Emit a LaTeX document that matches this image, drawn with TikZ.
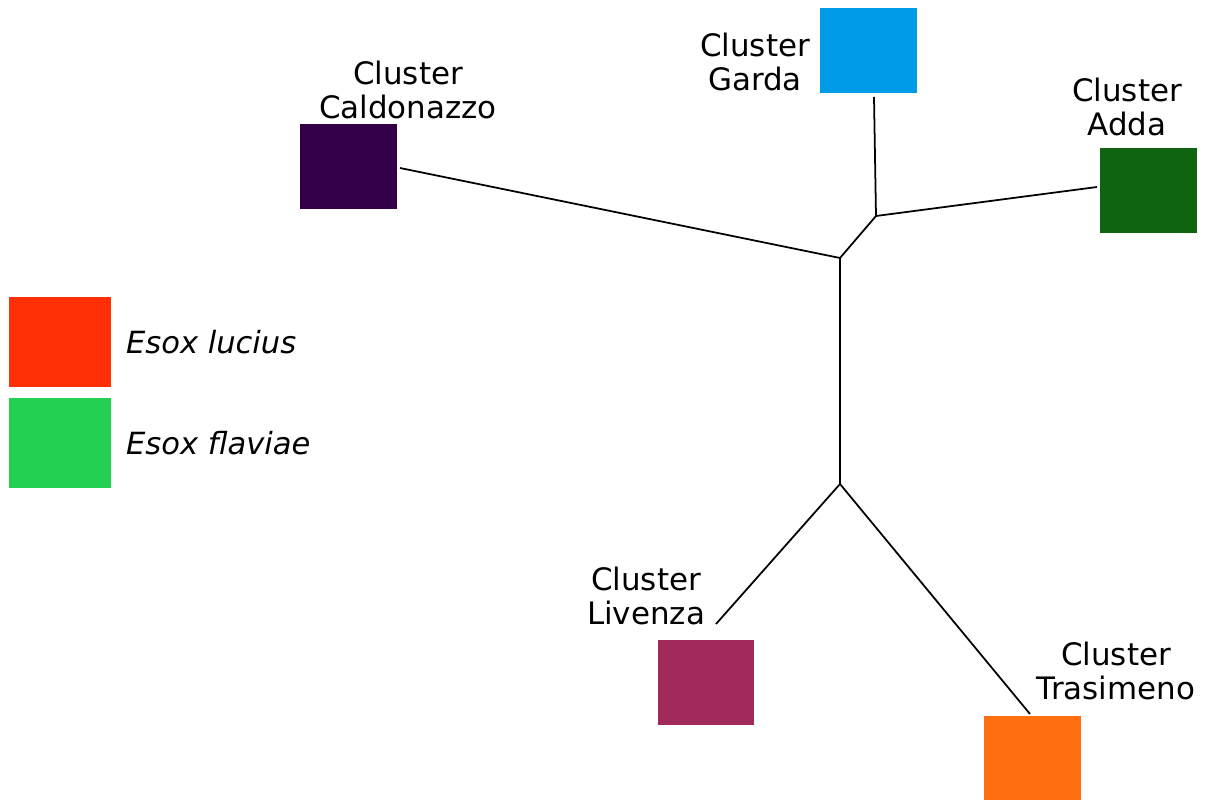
\documentclass[tikz,border=0pt]{standalone}
\usepackage{xcolor}
\usepackage{fontspec}
\setmainfont{DejaVu Sans}
\usepackage{tikz}
\usetikzlibrary{positioning}

\definecolor{caldcol}{RGB}{51,0,72}
\definecolor{gardacol}{RGB}{0,155,230}
\definecolor{addacol}{RGB}{15,100,16}
\definecolor{livcol}{RGB}{160,41,90}
\definecolor{trascol}{RGB}{255,111,15}
\definecolor{luciuscol}{RGB}{255,48,5}
\definecolor{flaviaecol}{RGB}{34,208,82}

\tikzset{
	clusterbox/.style={draw=none, minimum width=1.94cm, minimum height=1.7cm, inner sep=0pt},
	legendbox/.style={draw=none, minimum width=2.06cm, minimum height=1.8cm, inner sep=0pt},
	clusterlabel/.style={align=center, font=\fontsize{17.6}{19.5}\selectfont},
	legendlabel/.style={anchor=west, font=\fontsize{17.4}{19.5}\selectfont\itshape},
	branch/.style={line width=1pt, black}
}

\begin{document}
\begin{tikzpicture}[x=0.02cm, y=-0.02cm]
				\useasboundingbox (0,0) rectangle (1211,800);
				% squares of the clusters
				\node[clusterbox, fill=caldcol] (cald) at (348.5,166.5) {};
				\node[clusterbox, fill=gardacol] (garda) at (868.5,50.5) {};
				\node[clusterbox, fill=addacol] (adda) at (1148.5,190.5) {};
				\node[clusterbox, fill=livcol] (liv) at (706,682.5) {};
				\node[clusterbox, fill=trascol] (tras) at (1032,758.5) {};
				
				\node[clusterlabel] (caldtext) at (408,90) {Cluster\\Caldonazzo};
				\node[clusterlabel] (gardatext) at (755,62) {Cluster\\Garda};
				\node[clusterlabel] (addatext) at (1127,107) {Cluster\\Adda};
				\node[clusterlabel] (livtext) at (646,596) {Cluster\\Livenza};
				\node[clusterlabel] (trastext) at (1116,671) {Cluster\\Trasimeno};
				
				% inner junctions of the tree
				\coordinate (ja) at (840,258);
				\coordinate (jb) at (876,216);
				\coordinate (jc) at (840,484);
				\coordinate (caldtip) at (400,168);
				\coordinate (gardatip) at (874,97);
				\coordinate (addatip) at (1097,187);
				\coordinate (livtip) at (716,624);
				\coordinate (trastip) at (1030,714);
				
				\draw[branch] (caldtip) -- (ja) -- (jb) -- (gardatip);
				\draw[branch] (jb) -- (addatip);
				\draw[branch] (ja) -- (jc);
				\draw[branch] (livtip) -- (jc) -- (trastip);
				
				% legend
				\node[legendbox, fill=luciuscol] (lucius) at (60,342) {};
				\node[legendbox, fill=flaviaecol, below=0.2cm of lucius] (flaviae) {};
				\node[legendlabel, right=0.16cm of lucius] (luciustext) {Esox lucius};
				\node[legendlabel, right=0.16cm of flaviae] (flaviaetext) {Esox flaviae};
			\end{tikzpicture}
\end{document}
